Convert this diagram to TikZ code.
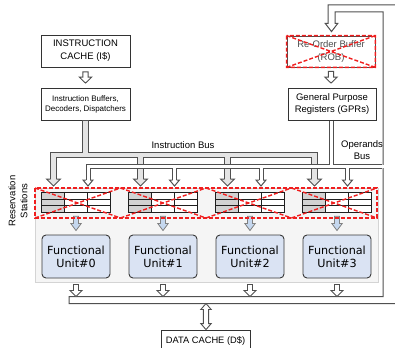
\documentclass[tikz,border=0pt]{standalone}
\usepackage{fontspec}
\setmainfont{Liberation Sans}
\newfontfamily\fufont{DejaVu Sans}
\usetikzlibrary{calc}

\definecolor{busgray}{HTML}{E4E4E4}
\definecolor{busline}{HTML}{505050}
\definecolor{fublue}{HTML}{DAE3F3}
\definecolor{arrblue}{HTML}{C5D7EE}
\definecolor{xred}{HTML}{F01E1E}
\definecolor{panelgray}{HTML}{F5F5F5}
\definecolor{panelline}{HTML}{D4D4D4}
\definecolor{tabgray}{HTML}{D2D2D2}

% straight block arrow pointing down: options, from, to, half stem, half head, head length
\newcommand\blkdown[6]{%
  \filldraw[#1] let \p1=#2, \p2=#3 in
    (\x1-#4pt,\y1) -- (\x1+#4pt,\y1) -- (\x1+#4pt,\y2+#6pt) -- (\x1+#5pt,\y2+#6pt)
    -- (\x1,\y2) -- (\x1-#5pt,\y2+#6pt) -- (\x1-#4pt,\y2+#6pt) -- cycle;}
% block arrow with a head at both ends
\newcommand\blkupdown[6]{%
  \filldraw[#1] let \p1=#2, \p2=#3 in
    (\x1,\y1) -- (\x1+#5pt,\y1-#6pt) -- (\x1+#4pt,\y1-#6pt) -- (\x1+#4pt,\y2+#6pt)
    -- (\x1+#5pt,\y2+#6pt) -- (\x1,\y2) -- (\x1-#5pt,\y2+#6pt) -- (\x1-#4pt,\y2+#6pt)
    -- (\x1-#4pt,\y1-#6pt) -- (\x1-#5pt,\y1-#6pt) -- cycle;}
% head at the end of a bus band: options, base point, half stem, half head, length
\newcommand\bushead[5]{%
  \filldraw[#1] let \p1=#2 in
    (\x1-#3pt,\y1) -- (\x1-#4pt,\y1) -- (\x1,\y1-#5pt) -- (\x1+#4pt,\y1) -- (\x1+#3pt,\y1);}

\begin{document}
\begin{tikzpicture}[x=1pt,y=-1pt,
  box/.style={draw=black!80, line width=0.8pt, align=center, inner sep=0pt,
    font=\fontsize{9.5}{12.8}\selectfont},
  smallbox/.style={box, font=\fontsize{8}{10}\selectfont},
  fu/.style={draw=black!78, line width=0.9pt, fill=fublue, rounded corners=4pt,
    minimum width=68pt, minimum height=43pt, align=center, inner sep=0pt,
    font=\fufont\fontsize{11.2}{13}\selectfont},
  rstab/.style={minimum width=68pt, minimum height=19pt, inner sep=0pt},
  tabline/.style={draw=black!88, line width=1.1pt},
  reddash/.style={draw=xred, line width=1.4pt, dash pattern=on 4pt off 2pt},
  ibout/.style={draw=busline, line width=6.6pt, line join=miter},
  ibin/.style={draw=busgray, line width=4.6pt, line join=miter},
  opout/.style={draw=busline, line width=5pt, line join=miter},
  opin/.style={draw=white, line width=3pt, line join=miter},
  whitearrow/.style={fill=white, draw=busline, line width=0.9pt, line join=miter},
  bluearrow/.style={fill=arrblue, draw=black!50, line width=0.8pt, line join=miter},
  label/.style={font=\fontsize{9.5}{12}\selectfont, align=center, inner sep=0pt}]
\useasboundingbox (0,0) rectangle (395,347);

% ---- reservation station / functional unit panel ----
\node[fill=panelgray, draw=panelline, line width=0.8pt, minimum width=343pt,
  minimum height=94pt, inner sep=0pt] (panel) at (206.5,235) {};

\foreach \k in {0,...,3}{
  \pgfmathsetmacro\cx{76+87*\k}
  \node[rstab] (rs\k) at (\cx,202.5) {};
  \fill[tabgray] (rs\k.north west) rectangle ($(rs\k.south west)+(23,0)$);
  \fill[white] ($(rs\k.north west)+(23,0)$) rectangle (rs\k.south east);
  \draw[tabline] ($(rs\k.north west)+(23,0)$) -- ($(rs\k.south west)+(23,0)$)
    ($(rs\k.north west)+(46,0)$) -- ($(rs\k.south west)+(46,0)$)
    ($(rs\k.north west)!1/3!(rs\k.south west)$) -- ($(rs\k.north east)!1/3!(rs\k.south east)$)
    ($(rs\k.north west)!2/3!(rs\k.south west)$) -- ($(rs\k.north east)!2/3!(rs\k.south east)$)
    (rs\k.north west) rectangle (rs\k.south east);
  \node[fu] (fu\k) at (\cx,256.5) {Functional\\Unit\#\k};
  \blkdown{bluearrow}{($(rs\k.south)+(0,4)$)}{($(fu\k.north)+(0,-4)$)}{2.5}{5.2}{7}
}

% reservation stations are crossed out
\draw[reddash] (35,188) rectangle (377,218);
\foreach \k in {0,...,3}{
  \draw[reddash] (35+85.5*\k,188) -- (120.5+85.5*\k,218)
                 (35+85.5*\k,218) -- (120.5+85.5*\k,188);
}

% ---- boxes ----
\node[box, minimum width=89pt, minimum height=32pt] (icache) at (85.5,51)
  {INSTRUCTION\\CACHE (I\$)};
\node[smallbox, minimum width=89pt, minimum height=32pt] (ibuf) at (85.5,104)
  {Instruction Buffers,\\Decoders, Dispatchers};
\node[box, draw=black!70, text=black!70, minimum width=88pt, minimum height=31pt] (rob) at (331,51.5)
  {Re-Order Buffer\\(ROB)};
\node[box, minimum width=88pt, minimum height=32pt] (gpr) at (332,104)
  {General Purpose\\Registers (GPRs)};
\node[box, minimum width=89pt, minimum height=22pt, font=\fontsize{9.3}{11}\selectfont]
  (dcache) at (205.5,341) {DATA CACHE (D\$)};

\draw[reddash] (rob.north west) rectangle (rob.south east)
  (rob.north west) -- (rob.south east) (rob.south west) -- (rob.north east);

\blkdown{whitearrow}{($(icache.south)+(0,4.5)$)}{($(ibuf.north)+(0,-4.5)$)}{2.6}{6.2}{6}
\blkdown{whitearrow}{($(rob.south)+(0,4)$)}{($(gpr.north)+(0,-4.5)$)}{2.6}{6.2}{6}

% ---- instruction bus ----
\coordinate (ibj) at (85.5,155);
\foreach \k in {0,...,3}{
  \coordinate (ibh\k) at (53.5+87*\k,179);
}
\draw[ibout] (ibuf.south) -- (ibj);
\draw[ibout] (ibh0) -- (53.5,155) -- (314.5,155) -- (ibh3);
\draw[ibout] (140.5,155) -- (ibh1) (227.5,155) -- (ibh2);
\draw[ibin] ($(ibuf.south)+(0,0.5)$) -- (ibj);
\draw[ibin] (ibh0) -- (53.5,155) -- (314.5,155) -- (ibh3);
\draw[ibin] (140.5,155) -- (ibh1) (227.5,155) -- (ibh2);
\foreach \k in {0,...,3}{
  \bushead{fill=busgray, draw=busline, line width=1pt, line join=miter}{(ibh\k)}{2.8}{7}{7}
}

% ---- result bus with its feedback to the ROB ----
\coordinate (robin) at ($(rob.north)+(0.5,-4)$);
\filldraw[fill=white, draw=busline, line width=1pt, line join=miter]
  (69,296.5) -- (383,296.5) -- (383,12) -- (335,12) -- (335,23.5) -- (337.7,23.5)
  -- (robin) -- (325.3,23.5) -- (328,23.5) -- (328,5) -- (401,5) -- (401,303.5)
  -- (69,303.5) -- cycle;

% ---- operands bus ----
\foreach \k in {0,...,3}{
  \coordinate (oph\k) at (88+86.5*\k,180);
}
\draw[opout] (oph0) -- (88,166.5) -- (382,166.5);
\draw[opout] (174.5,166.5) -- (oph1) (261,166.5) -- (oph2) (347.5,166.5) -- (oph3);
\draw[opout] (331,120) -- (331,166.5);
\draw[opin] (oph0) -- (88,166.5) -- (385,166.5);
\draw[opin] (174.5,166.5) -- (oph1) (261,166.5) -- (oph2) (347.5,166.5) -- (oph3);
\draw[opin] (331,120.5) -- (331,166.5);
\foreach \k in {0,...,3}{
  \bushead{fill=white, draw=busline, line width=1pt, line join=miter}{(oph\k)}{2}{5}{6}
  \coordinate (res\k) at (76+87*\k,296.5);
  \blkdown{whitearrow}{($(fu\k.south)+(0,6)$)}{(res\k)}{2.5}{6}{6}
}
\draw[box] (gpr.south west) -- (gpr.south east);

\blkupdown{whitearrow}{(206,303.5)}{(dcache.north)}{2.6}{5.2}{6}

% ---- labels ----
\node[label] (iblabel) at (183,145) {Instruction Bus};
\node[label] (oplabel) at (362,150) {Operands\\Bus};
\node[label, rotate=90] (rslabel) at (18,201) {Reservation\\Stations};
\end{tikzpicture}
\end{document}
